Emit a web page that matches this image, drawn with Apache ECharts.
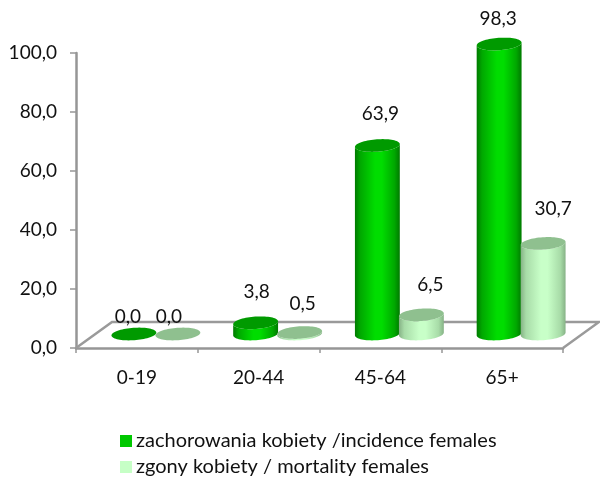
<!DOCTYPE html>
<html><head><meta charset="utf-8">
<style>html,body{margin:0;padding:0;background:#fff}#c{width:600px;height:479px}</style>
<script src="https://cdn.jsdelivr.net/npm/echarts@6/dist/echarts.min.js"></script>
</head><body><div id="c"></div>
<script>
const categories = ['0-19','20-44','45-64','65+'];
const incidence = [0.0,3.8,63.9,98.3];
const mortality = [0.0,0.5,6.5,30.7];
const incidenceName = 'zachorowania kobiety /incidence females';
const mortalityName = 'zgony kobiety / mortality females';
const yTicks = {min:0,max:100,interval:20};

const FONT='Lato', FS=19, TXT='#111';
const DEPTH_X=36, DEPTH_Y=26, BASE_RISE=14, SHIFT_X=19;
const A=22.5, B=6.2, TILT=4*Math.PI/180;
const dec=v=>v.toFixed(1).replace('.',',');

function ell(cx,cy,t){
  const c=Math.cos(t),s=Math.sin(t);
  return [cx+A*c*Math.cos(TILT)+B*s*Math.sin(TILT), cy-A*c*Math.sin(TILT)+B*s*Math.cos(TILT)];
}
function ellipsePts(cx,cy){const p=[];for(let i=0;i<72;i++)p.push(ell(cx,cy,i/72*2*Math.PI));return p;}
function bodyPts(cx,yTop,yBase){
  const p=[];
  for(let i=0;i<=36;i++)p.push(ell(cx,yBase,i/36*Math.PI));
  for(let i=36;i>=0;i--)p.push(ell(cx,yTop,i/36*Math.PI));
  return p;
}
function cylinder(sign,edge,side,mid,top,nudges){
  return function(params,api){
    const cat=api.value(0),val=api.value(1);
    const p0=api.coord([cat,0]),pv=api.coord([cat,val]);
    const cx=p0[0]+SHIFT_X+sign*22, yB=p0[1]-BASE_RISE, yT=pv[1]-BASE_RISE;
    const children=[];
    if(val>0){
      children.push({type:'polygon',shape:{points:bodyPts(cx,yT,yB)},style:{fill:new echarts.graphic.LinearGradient(0,0,1,0,[
        {offset:0,color:edge},{offset:0.12,color:side},{offset:0.45,color:mid},{offset:0.6,color:mid},{offset:0.88,color:side},{offset:1,color:edge}])}});
    }
    children.push({type:'polygon',shape:{points:ellipsePts(cx,yT)},style:{fill:top}});
    const n=nudges[cat];
    children.push({type:'text',style:{text:dec(val),x:cx+n[0],y:yT+n[1],align:'center',verticalAlign:'middle',font:FS+'px '+FONT,fill:TXT}});
    return {type:'group',children};
  };
}
function floor(params,api){
  const c=params.coordSys, l=c.x, r=c.x+c.width, b=c.y+c.height;
  return {type:'group',silent:true,children:[
    {type:'polyline',shape:{points:[[l,b],[l+DEPTH_X,b-DEPTH_Y],[r+DEPTH_X,b-DEPTH_Y],[r,b]]},style:{fill:'none',stroke:'#9a9a9a',lineWidth:2.5}}
  ]};
}
const labelNudgeA=[[-6,-17],[1,-31],[3,-32],[-1,-25]];
const labelNudgeB=[[-9,-17],[3,-29],[9,-30],[10,-35]];
const legendText={fontFamily:FONT,fontSize:20,color:TXT,padding:[0,0,0,-1]};

const chart=echarts.init(document.getElementById('c'),null,{renderer:'canvas'});
chart.setOption({
  animation:false,
  backgroundColor:'#fff',
  textStyle:{fontFamily:FONT},
  grid:{left:76,top:53,width:487,height:295,containLabel:false},
  legend:[
    {left:115,top:426,itemWidth:12,itemHeight:12,icon:'rect',data:[incidenceName],textStyle:legendText},
    {left:115,top:452,itemWidth:12,itemHeight:12,icon:'rect',data:[mortalityName],textStyle:legendText}
  ],
  xAxis:{type:'category',data:categories,
    axisLine:{lineStyle:{color:'#969696',width:2.5}},
    axisTick:{show:true,length:5,alignWithLabel:false,lineStyle:{color:'#969696',width:1.5}},
    axisLabel:{fontFamily:FONT,fontSize:FS,color:TXT,margin:20},splitLine:{show:false}},
  yAxis:{type:'value',min:yTicks.min,max:yTicks.max,interval:yTicks.interval,
    axisLine:{show:true,lineStyle:{color:'#969696',width:2.5}},
    axisTick:{show:true,length:6,lineStyle:{color:'#969696',width:1.5}},
    axisLabel:{fontFamily:FONT,fontSize:FS,color:TXT,margin:19,padding:[3,0,0,0],formatter:v=>dec(v)},splitLine:{show:false}},
  series:[
    {type:'custom',name:'floor',coordinateSystem:'cartesian2d',data:[[0,0]],renderItem:floor,z:1,silent:true,clip:false,encode:{x:0,y:1}},
    {type:'custom',name:incidenceName,coordinateSystem:'cartesian2d',z:3,clip:false,itemStyle:{color:'#00c800'},
      data:incidence.map((v,i)=>[i,v]),encode:{x:0,y:1},
      renderItem:cylinder(-1,'#007a00','#00a800','#00dd00','#009a00',labelNudgeA)},
    {type:'custom',name:mortalityName,coordinateSystem:'cartesian2d',z:4,clip:false,itemStyle:{color:'#c6ffc6'},
      data:mortality.map((v,i)=>[i,v]),encode:{x:0,y:1},
      renderItem:cylinder(1,'#86b286','#a8dca8','#c8ffc8','#8fc08f',labelNudgeB)}
  ]
});
</script></body></html>
